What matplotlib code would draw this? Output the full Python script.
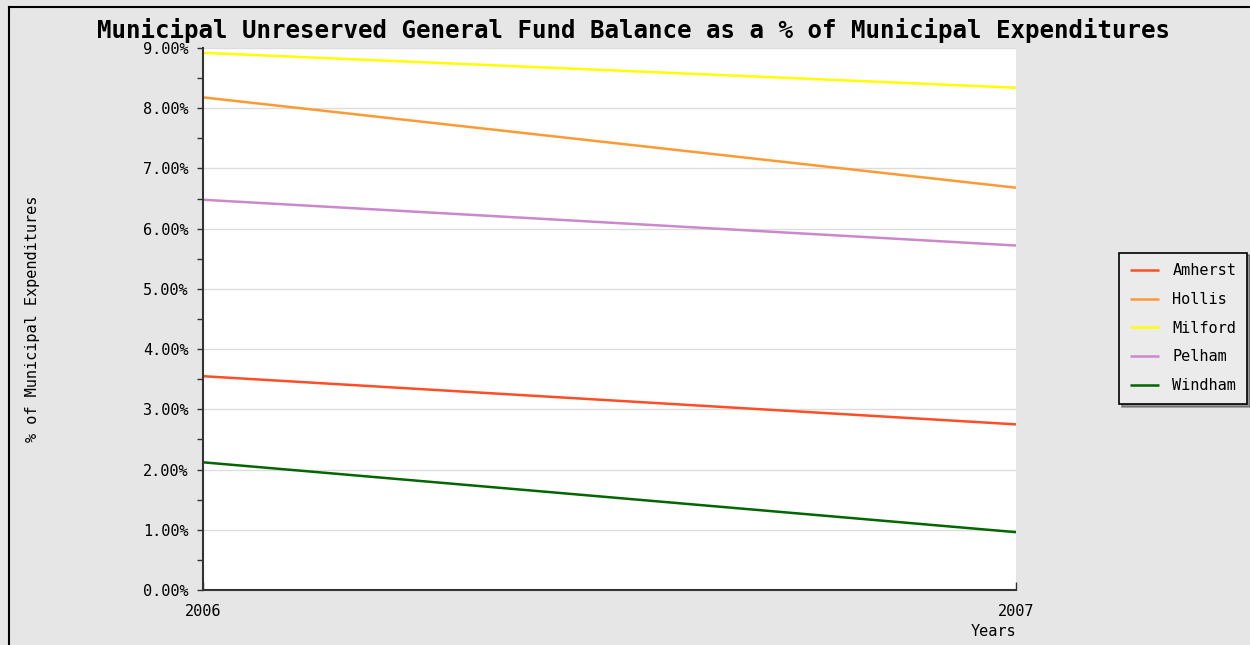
import matplotlib.pyplot as plt
from matplotlib.ticker import FixedLocator, MultipleLocator

years = [2006, 2007]
towns = ["Amherst", "Hollis", "Milford", "Pelham", "Windham"]
amherst = [3.55, 2.75]
hollis = [8.18, 6.68]
milford = [8.92, 8.34]
pelham = [6.48, 5.72]
windham = [2.12, 0.96]
colors = ["#ff4d26", "#ff9933", "#ffff00", "#cc88cc", "#006600"]
y_ticks = [0, 1, 2, 3, 4, 5, 6, 7, 8, 9]

plt.rcParams["font.family"] = ["DejaVu Sans Mono"]

fig = plt.figure(figsize=(12.5, 6.45), dpi=100, facecolor="#e6e6e6")
ax = fig.add_axes([0.1624, 0.0853, 0.6504, 0.8403])
ax.set_facecolor("white")

series = [amherst, hollis, milford, pelham, windham]
for name, vals, col in zip(towns, series, colors):
    ax.plot(years, vals, color=col, linewidth=1.8, label=name,
            solid_capstyle="butt")

ax.set_xlim(2006, 2007)
ax.set_ylim(0, 9)
ax.xaxis.set_major_locator(FixedLocator(years))
ax.set_xticklabels([str(y) for y in years], fontsize=11)
ax.yaxis.set_major_locator(FixedLocator(y_ticks))
ax.yaxis.set_minor_locator(MultipleLocator(0.5))
ax.set_yticklabels(["%.2f%%" % v for v in y_ticks], fontsize=11)
ax.tick_params(axis="y", which="both", direction="out", length=4.5,
               width=1, color="#333333", pad=6)
ax.tick_params(axis="x", direction="in", length=6, width=1,
               color="#333333", pad=10)
ax.grid(axis="y", color="#dddddd", linewidth=1)
ax.set_axisbelow(True)

for side in ["top", "right"]:
    ax.spines[side].set_visible(False)
for side in ["left", "bottom"]:
    ax.spines[side].set_color("#333333")
    ax.spines[side].set_linewidth(1.5)

ax.set_ylabel("% of Municipal Expenditures", fontsize=11, labelpad=0)
ax.yaxis.set_label_coords(-0.2, 0.5)
ax.set_xlabel("Years", fontsize=11, labelpad=0)
ax.xaxis.set_label_coords(1.0, -0.063)
ax.xaxis.label.set_horizontalalignment("right")

fig.text(0.507, 0.953, "Municipal Unreserved General Fund Balance as a % of Municipal Expenditures",
         ha="center", va="center", fontsize=17.4, fontweight="bold")

leg = ax.legend(loc="center left", bbox_to_anchor=(1.1267, 0.483), fontsize=11,
                frameon=True, fancybox=False, shadow=True, handlelength=1.9,
                handletextpad=0.9, labelspacing=0.9, borderpad=0.7,
                borderaxespad=0)
leg.get_frame().set_edgecolor("black")
leg.get_frame().set_facecolor("#ebebeb")
leg.get_frame().set_linewidth(1.2)

# outer frame of the original image (left and top edges visible)
fig.add_artist(plt.Line2D([0.0075, 0.0075], [0, 0.989], color="black",
                          linewidth=1.5, transform=fig.transFigure))
fig.add_artist(plt.Line2D([0.0075, 1.0], [0.989, 0.989], color="black",
                          linewidth=1.5, transform=fig.transFigure))

fig.savefig("out.png", dpi=100, facecolor=fig.get_facecolor())
